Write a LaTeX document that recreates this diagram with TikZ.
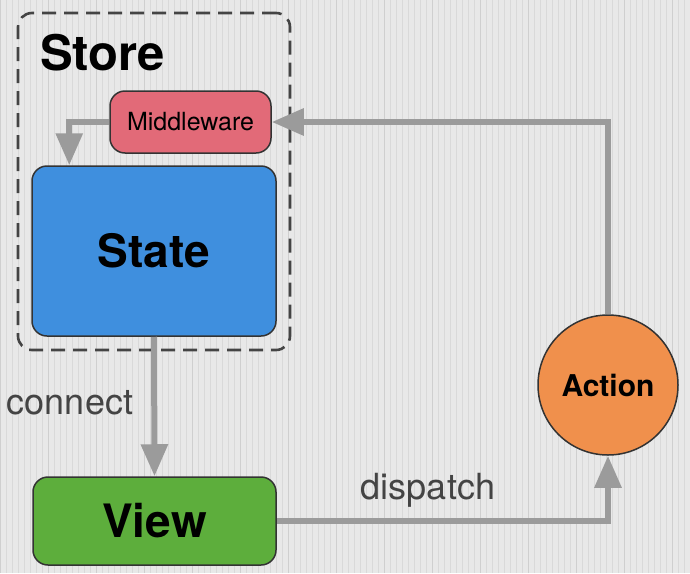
\documentclass[tikz,border=0pt]{standalone}
\usepackage{fontspec}
\setmainfont{TeX Gyre Heros}
\usetikzlibrary{arrows.meta,shapes.geometric}
\definecolor{bgcol}{HTML}{E8E8E8}
\definecolor{gridfine}{HTML}{D9D9D9}
\definecolor{gridmaj}{HTML}{CFCFCF}
\definecolor{mwred}{HTML}{E26A78}
\definecolor{stblue}{HTML}{3F8FDE}
\definecolor{vwgreen}{HTML}{5DAE3C}
\definecolor{acorange}{HTML}{F0904C}
\definecolor{conncol}{HTML}{9B9B9B}
\definecolor{edgecol}{HTML}{333333}
\definecolor{labcol}{HTML}{444444}
\tikzset{
  boxnode/.style={draw=edgecol, line width=1.5pt, rounded corners=15pt, inner sep=0pt},
  bigtext/.style={font=\bfseries\fontsize{46}{50}\selectfont, text=black},
  conn/.style={draw=conncol, line width=6pt, -{Triangle[width=26pt,length=32pt]}},
  edgelabel/.style={font=\fontsize{36}{40}\selectfont, text=labcol}
}
\begin{document}
\begin{tikzpicture}[x=1pt,y=-1pt]
\useasboundingbox (0,0) rectangle (690,573);
\fill[bgcol] (0,0) rectangle (690,573);
\draw[gridfine, line width=0.5pt, step=6] (0,0) grid (690,573);
\draw[gridmaj, line width=0.8pt, step=48] (0,0) grid (690,573);

\node[draw=labcol, line width=2.6pt, dash pattern=on 14pt off 8pt, rounded corners=14pt,
      minimum width=272pt, minimum height=337pt] (store) at (154,181.5) {};
\node[anchor=base west, font=\bfseries\fontsize{49}{53}\selectfont, text=black, inner sep=0pt] (storelab) at (40,70) {Store};

\node[boxnode, fill=mwred, minimum width=161pt, minimum height=62pt,
      font=\fontsize{25}{28}\selectfont] (mw) at (190.5,122) {Middleware};
\node[boxnode, fill=stblue, minimum width=244pt, minimum height=170pt, bigtext] (state) at (154,251) {State};
\node[boxnode, fill=vwgreen, minimum width=243pt, minimum height=88pt, bigtext] (view) at (154.5,521) {View};
\node[circle, draw=edgecol, line width=1.5pt, fill=acorange, minimum size=140pt, inner sep=0pt,
      font=\bfseries\fontsize{30}{34}\selectfont] (action) at (608,385) {Action};

\draw[conn] (mw.west) -| ([xshift=38pt]state.north west);
\draw[conn] (state.south) -- (view.north);
\draw[conn] (view.east) -| (action.south);
\draw[conn] (action.north) |- (mw.east);

\node[edgelabel] (connectlab) at (70,403) {connect};
\node[edgelabel] (dispatchlab) at (428,490) {dispatch};
\end{tikzpicture}
\end{document}
